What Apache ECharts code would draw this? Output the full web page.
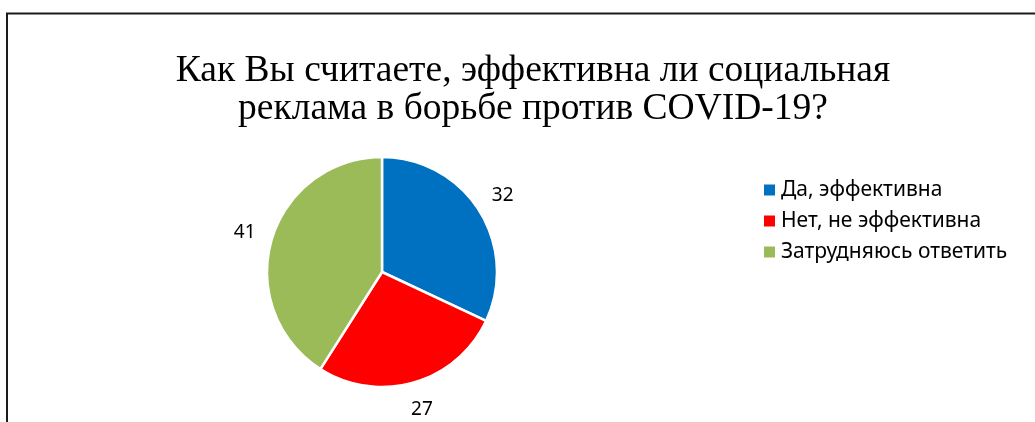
<!DOCTYPE html>
<html><head><meta charset="utf-8">
<script src="https://cdn.jsdelivr.net/npm/echarts@6/dist/echarts.min.js"></script>
<style>html,body{margin:0;padding:0;background:#fff}#c{width:1035px;height:422px}</style>
</head><body><div id="c"></div>
<script>
const titleText = "Как Вы считаете, эффективна ли социальная\nреклама в борьбе против COVID-19?";
const categories = ["Да, эффективна", "Нет, не эффективна", "Затрудняюсь ответить"];
const values = [32, 27, 41];
const colors = ["#0070C0", "#FF0000", "#9BBB59"];

const data = categories.map((n, i) => ({ name: n, value: values[i], itemStyle: { color: colors[i] } }));
const chart = echarts.init(document.getElementById('c'), null, { renderer: 'canvas' });
chart.setOption({
  animation: false,
  backgroundColor: '#fff',
  title: {
    text: titleText, left: 528, top: 47, textAlign: 'center',
    textStyle: { fontFamily: 'Liberation Serif', fontSize: 37.5, fontWeight: 'normal', color: '#000', lineHeight: 38 }
  },
  legend: {
    orient: 'vertical', left: 757, top: 174, icon: 'rect', itemWidth: 13, itemHeight: 13, itemGap: 9,
    data: categories,
    textStyle: { fontFamily: 'Noto Sans', fontSize: 21, color: '#000', lineHeight: 22 }
  },
  graphic: [{ type: 'rect', shape: { x: 7, y: 13.5, width: 1060, height: 440 }, style: { fill: 'none', stroke: '#1a1a1a', lineWidth: 2 }, silent: true }],
  series: [{
    type: 'pie', center: [382, 272], radius: [0, 115], startAngle: 90, clockwise: true,
    data: data,
    itemStyle: { borderColor: '#fff', borderWidth: 2.5 },
    label: { show: false }, labelLine: { show: false }, emphasis: { disabled: true }
  }, {
    type: 'pie', center: [382, 272], radius: [126, 154], startAngle: 90, clockwise: true,
    data: categories.map((n, i) => ({ name: n, value: values[i] })),
    itemStyle: { color: 'rgba(0,0,0,0)' }, silent: true, legendHoverLink: false,
    label: { show: true, position: 'inside', formatter: '{c}', fontFamily: 'Noto Sans', fontSize: 19, color: '#000' },
    labelLine: { show: false }, emphasis: { disabled: true }
  }]
});
</script></body></html>
